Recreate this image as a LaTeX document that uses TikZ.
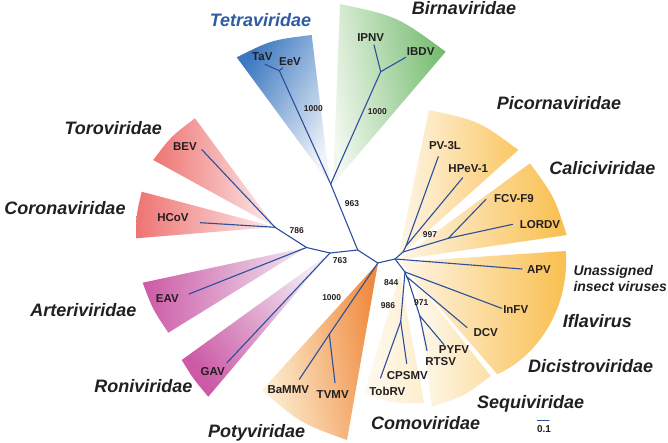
\documentclass[tikz,border=0pt]{standalone}
\usepackage{fontspec}
\setmainfont{Liberation Sans}
\usepackage{tikz}
\definecolor{ink}{HTML}{231F20}
\definecolor{twigblue}{HTML}{2B4F9E}
\definecolor{tetname}{HTML}{2F5AA6}
\definecolor{tetD}{HTML}{3C78C0}
\definecolor{tetL}{HTML}{F0F4FA}
\definecolor{birD}{HTML}{74BB6E}
\definecolor{birL}{HTML}{F2F8EF}
\definecolor{torD}{HTML}{EE7473}
\definecolor{torL}{HTML}{FCEBEB}
\definecolor{artD}{HTML}{CC5AA6}
\definecolor{artL}{HTML}{F1E8F1}
\definecolor{potD}{HTML}{F08A3E}
\definecolor{potL}{HTML}{FDF1D6}
\definecolor{picD}{HTML}{FAC763}
\definecolor{picL}{HTML}{FEF6E8}
\definecolor{calD}{HTML}{F9BE4C}
\definecolor{seqD}{HTML}{FBE0A6}
\definecolor{comD}{HTML}{FDEFCF}
\definecolor{paleL}{HTML}{FEF9EF}
\tikzset{
  twig/.style={draw=twigblue, line width=1.1pt, line cap=round, line join=round},
  leaf/.style={font=\fontsize{11.5}{11.5}\selectfont\bfseries, text=ink, inner sep=0pt, text height=8.2pt, text depth=0pt},
  boot/.style={font=\fontsize{8.5}{8.5}\selectfont\bfseries, text=ink, inner sep=0pt, text height=6.1pt, text depth=0pt},
  family/.style={font=\fontsize{18}{18}\selectfont\bfseries\itshape, text=ink, inner sep=0pt, text height=12.9pt, text depth=0pt},
  lesser/.style={font=\fontsize{14}{16.5}\selectfont\bfseries\itshape, text=ink, inner sep=0pt, align=left},
  wedge/.style={draw=none}
}
\begin{document}
\begin{tikzpicture}[x=1pt, y=-1pt]
\useasboundingbox (0,0) rectangle (668,442);
% coloured clades
\shade[wedge, top color=tetD, bottom color=tetL, shading angle=60] (330,184) -- (236.7,57.3) .. controls (271.5,40) .. (311.7,35) -- cycle;
\shade[wedge, top color=birD, bottom color=birL, shading angle=-80] (333,184) -- (340,4) .. controls (397.4,16.3) .. (445.7,51.7) -- cycle;
\shade[wedge, top color=torD, bottom color=torL, shading angle=90] (275,227) -- (153.3,160) .. controls (171,136.4) .. (195,118.3) -- cycle;
\shade[wedge, top color=torD, bottom color=torL, shading angle=90] (275,227) -- (141.7,191.7) .. controls (136.2,214.8) .. (136,238.3) -- cycle;
\shade[wedge, top color=artD, bottom color=artL, shading angle=90] (306.7,247.3) -- (142.7,282.7) .. controls (152.5,308.9) .. (168.3,332.7) -- cycle;
\shade[wedge, top color=artD, bottom color=artL, shading angle=125] (330,253) -- (181.7,360) .. controls (193.8,379.6) .. (208.3,396.7) -- cycle;
\shade[wedge, top color=potD, bottom color=potL, shading angle=-80] (378,263) -- (262,390) .. controls (300.5,423.3) .. (347,440) -- cycle;
\shade[wedge, top color=picD, bottom color=picL, shading angle=-90] (398,258) -- (429,110) .. controls (479.1,120.9) .. (518.3,150) -- cycle;
\shade[wedge, top color=calD, bottom color=picL, shading angle=-90] (398,260) -- (530,163.3) .. controls (554.3,196.6) .. (566.7,235) -- cycle;
\shade[wedge, top color=calD, bottom color=picL, shading angle=-90] (400,262) -- (565.7,251) .. controls (570,305) and (540,355) .. (497.3,374.3) -- cycle;
\shade[wedge, top color=seqD, bottom color=paleL, shading angle=-90] (416,281) -- (490.7,376) .. controls (463.3,396.7) .. (431.7,406.7) -- cycle;
\shade[wedge, top color=comD, bottom color=paleL, shading angle=-90] (400,275) -- (424,403) .. controls (393.8,403.4) .. (364,394) -- cycle;
% branch points and tips
\coordinate (ntet) at (279.3,70.7);  \coordinate (tav) at (265,64.3);    \coordinate (eev) at (282.7,67.7);
\coordinate (nbir) at (380.7,71.7);  \coordinate (ipnv) at (374,45);     \coordinate (ibdv) at (405.7,57.3);
\coordinate (ntb) at (330.7,184);    \coordinate (n963) at (357.7,250);  \coordinate (n763) at (330,253);
\coordinate (na) at (306.5,247.5);   \coordinate (n786) at (275,227.3);
\coordinate (bev) at (201.7,149.5);  \coordinate (hcov) at (200.5,222.7);
\coordinate (eav) at (189,294);      \coordinate (gav) at (226.7,363);
\coordinate (nr) at (377.8,263);     \coordinate (npot) at (329.3,334.3);
\coordinate (bammv) at (299.3,379.3); \coordinate (tvmv) at (335,382.7);
\coordinate (np) at (395,259);       \coordinate (npc) at (403,252);     \coordinate (npic) at (406,246);
\coordinate (pv) at (438.3,156.7);   \coordinate (hpev) at (462.7,177.7);
\coordinate (n997) at (448.3,238.3); \coordinate (fcv) at (486,199.3);   \coordinate (lordv) at (512.7,224.3);
\coordinate (apv) at (522,269);      \coordinate (n844) at (405,272);    \coordinate (infv) at (501.7,308.3);
\coordinate (nd) at (406.7,276.7);   \coordinate (dcv) at (467,327.5);
\coordinate (n971) at (408.3,280);   \coordinate (nseq) at (419.7,315.7);
\coordinate (rtsv) at (427,350.5);   \coordinate (pyfv) at (444,344.7);
\coordinate (n986) at (400.7,321.5); \coordinate (tobrv) at (380.5,378); \coordinate (cpsmv) at (406.7,363.5);
\foreach \a/\b in {ntet/tav, ntet/eev, ntb/ntet, nbir/ipnv, nbir/ibdv, ntb/nbir, n963/ntb,
  n963/n763, n763/na, na/n786, n786/bev, n786/hcov, na/eav, n763/gav,
  n963/nr, nr/npot, npot/bammv, npot/tvmv, nr/np, np/npc, npc/npic, npic/pv, npic/hpev,
  npc/n997, n997/fcv, n997/lordv, np/apv, np/n844, n844/infv, n844/nd, nd/dcv,
  nd/n971, n971/nseq, nseq/rtsv, nseq/pyfv, n844/n986, n986/tobrv, n986/cpsmv}
  \draw[twig] (\a) -- (\b);
% tip labels
\node[leaf] (tavl) at (262.3,56) {TaV};
\node[leaf] (eevl) at (290,61.7) {EeV};
\node[leaf] (ipnvl) at (370.7,37.7) {IPNV};
\node[leaf] (ibdvl) at (420.7,51.7) {IBDV};
\node[leaf] (bevl) at (185,146.7) {BEV};
\node[leaf] (hcovl) at (173,217) {HCoV};
\node[leaf] (eavl) at (167.3,298.3) {EAV};
\node[leaf] (gavl) at (212.7,371.7) {GAV};
\node[leaf] (bammvl) at (288.3,389.3) {BaMMV};
\node[leaf] (tvmvl) at (332.7,394) {TVMV};
\node[leaf] (tobrvl) at (387.3,391.7) {TobRV};
\node[leaf] (cpsmvl) at (407.3,375) {CPSMV};
\node[leaf] (rtsvl) at (440.7,361) {RTSV};
\node[leaf] (pyfvl) at (454,349.3) {PYFV};
\node[leaf] (dcvl) at (485.7,332.7) {DCV};
\node[leaf] (infvl) at (515.7,309.3) {InFV};
\node[leaf] (apvl) at (539,269.3) {APV};
\node[leaf] (lordvl) at (540,224.3) {LORDV};
\node[leaf] (fcvl) at (514,198.3) {FCV-F9};
\node[leaf] (hpevl) at (468.3,168.3) {HPeV-1};
\node[leaf] (pvl) at (445,145.5) {PV-3L};
% bootstrap values
\foreach \v/\x/\y [count=\k] in {1000/313.3/108.3, 1000/377.3/111.7, 963/352/203.3, 786/296.7/230,
  763/340/260, 1000/331.7/297, 997/430/234.3, 844/391.3/282.7, 986/388/305, 971/421.3/302}
  \node[boot] (boot\k) at (\x,\y) {\v};
% families
\node[family, text=tetname] (tetra) at (260.5,20) {Tetraviridae};
\node[family] (birna) at (464,8.5) {Birnaviridae};
\node[family] (toro) at (113.3,128.3) {Toroviridae};
\node[family] (corona) at (65,208.3) {Coronaviridae};
\node[family] (arteri) at (83.3,310.3) {Arteriviridae};
\node[family] (roni) at (143.3,386) {Roniviridae};
\node[family] (poty) at (256.7,431) {Potyviridae};
\node[family] (como) at (425.7,422.7) {Comoviridae};
\node[family] (sequi) at (530.7,401.7) {Sequiviridae};
\node[family] (dicis) at (590.7,366) {Dicistroviridae};
\node[family] (ifla) at (597.3,321) {Iflavirus};
\node[family] (picorna) at (559,103.3) {Picornaviridae};
\node[family] (calici) at (602.3,168.3) {Caliciviridae};
\node[lesser, anchor=north west] (unass) at (573.3,265) {Unassigned\\insect viruses};
% scale bar
\coordinate (sb1) at (537.3,420.3);
\coordinate (sb2) at (549,420.3);
\draw[twig] (sb1) -- (sb2);
\node[boot, font=\fontsize{10}{10}\selectfont\bfseries, text height=7.2pt] (sbl) at (544,428.5) {0.1};
\end{tikzpicture}
\end{document}
